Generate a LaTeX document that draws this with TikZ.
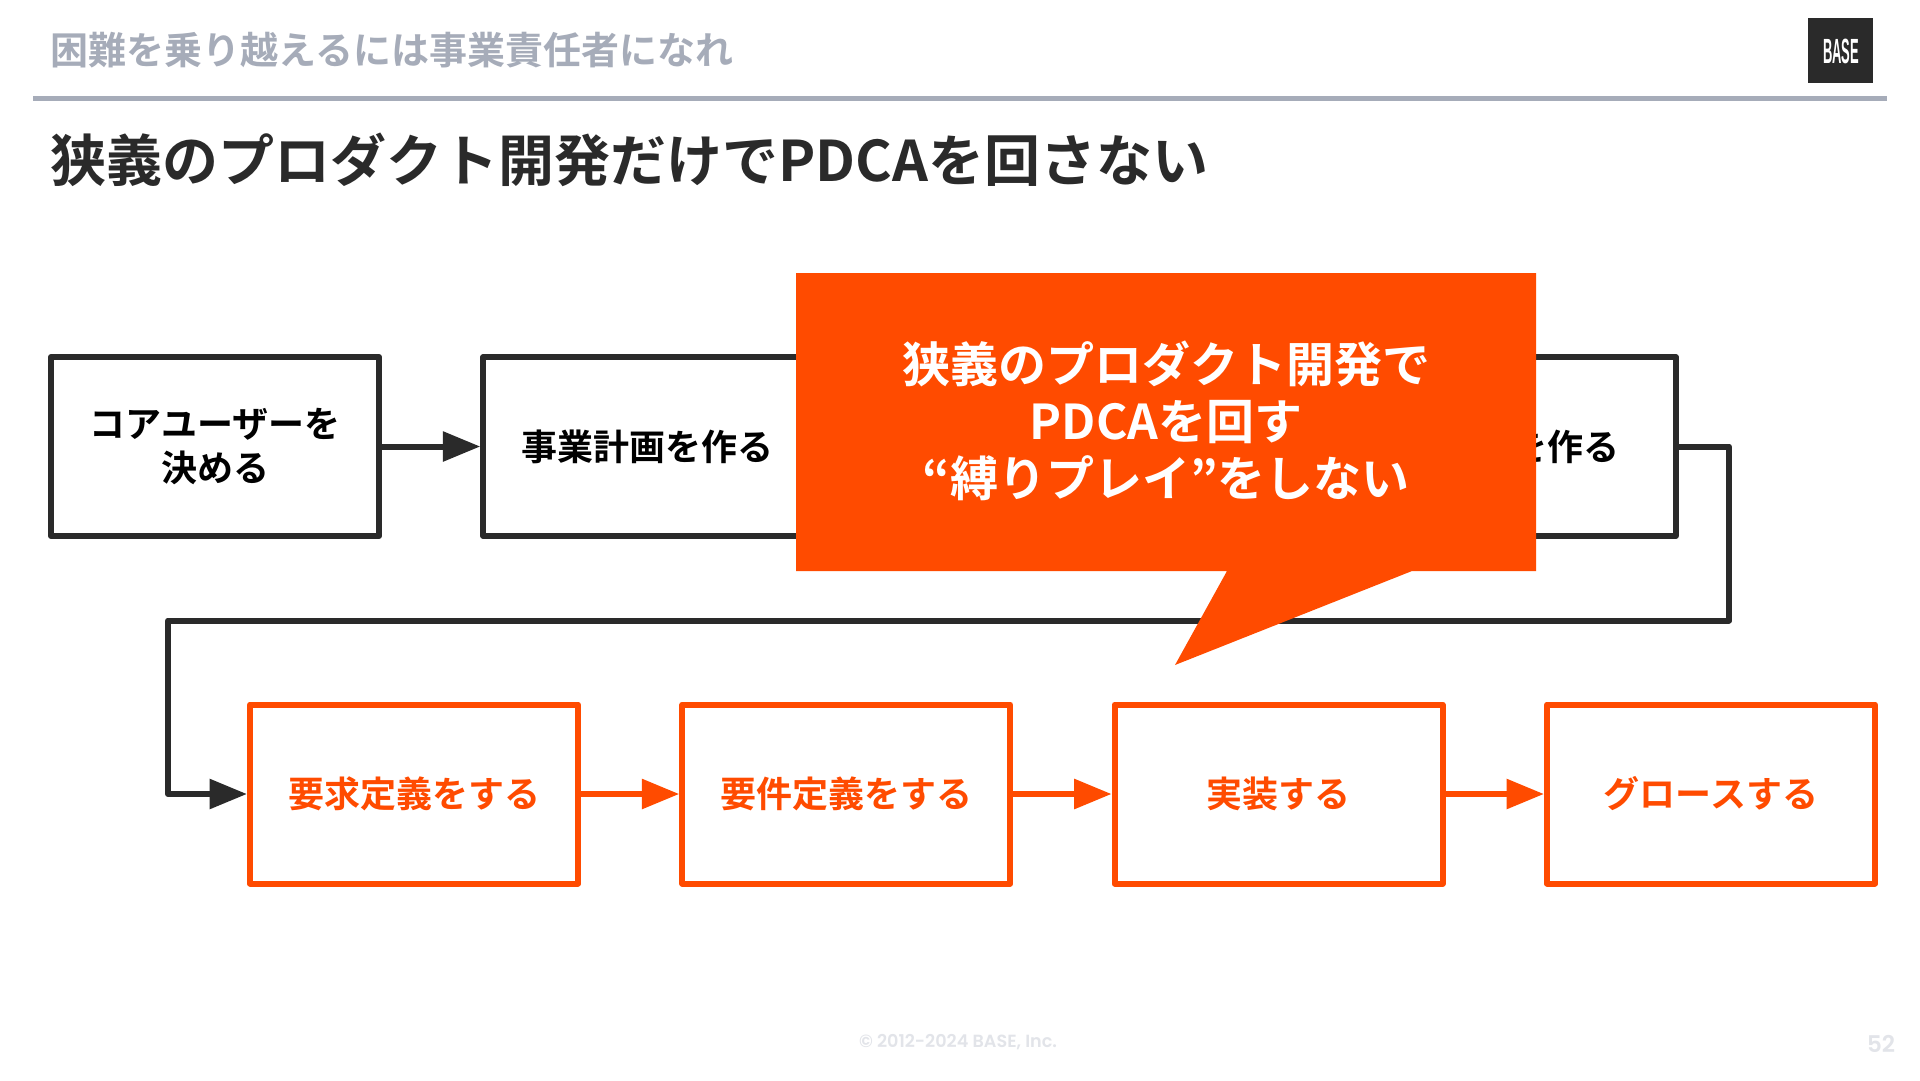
\documentclass[tikz,border=0pt]{standalone}
\usepackage{fontspec}
\setmainfont{Noto Sans CJK JP}[BoldFont=* Bold]
\newfontfamily\footfont{Poppins}[BoldFont=* SemiBold]
\newfontfamily\logofont{Liberation Sans}
\usetikzlibrary{arrows.meta}
\definecolor{brandorange}{HTML}{FF4B00}
\definecolor{inkdark}{HTML}{2A2A2A}
\definecolor{rulegrey}{HTML}{A6ACB9}
\definecolor{footgrey}{HTML}{E2E4E9}
\tikzset{
  x=1pt,y=-1pt,
  boxbase/.style={draw,line width=6pt,line join=round,fill=white,minimum width=328pt,minimum height=179pt,inner sep=0pt,align=center,font=\fontsize{36}{44}\selectfont\bfseries},
  darkbox/.style={boxbase,draw=inkdark,text=black},
  orangebox/.style={boxbase,draw=brandorange,text=brandorange},
  darklink/.style={draw=inkdark,line width=6pt,line join=round,-{Triangle[length=37.5pt,width=29pt,fill=inkdark]}},
  orangelink/.style={draw=brandorange,line width=6pt,line join=round,-{Triangle[length=37.5pt,width=29pt,fill=brandorange]}}
}
\begin{document}
\begin{tikzpicture}
\useasboundingbox (0,0) rectangle (1920,1080);
\fill[white] (0,0) rectangle (1920,1080);
% header
\node[anchor=west,inner sep=0pt,text=rulegrey,font=\fontsize{38}{38}\selectfont\bfseries] (head) at (50,50) {困難を乗り越えるには事業責任者になれ};
\fill[rulegrey] (33,95.5) rectangle (1887,100.5);
\fill[inkdark] (1808,18) rectangle (1873,83);
\node[inner sep=0pt,text=white,xscale=.37,font=\fontsize{35}{35}\logofont\bfseries] (logo) at (1841,51) {BASE};
\node[anchor=west,inner sep=0pt,text=inkdark,font=\fontsize{56}{56}\selectfont\bfseries] (title) at (50,160) {狭義のプロダクト開発だけでPDCAを回さない};
% top row
\node[darkbox] (a1) at (215,446.5) {コアユーザーを\\決める};
\node[darkbox] (a2) at (647.3,446.5) {事業計画を作る};
\node[darkbox] (a4) at (1511.6,446.5) {};
\node[anchor=east,inner sep=0pt,text=black,font=\fontsize{36}{44}\selectfont\bfseries] (a4t) at (1620,446.5) {を作る};
% bottom row
\node[orangebox] (b1) at (414,794) {要求定義をする};
\node[orangebox] (b2) at (846.3,794) {要件定義をする};
\node[orangebox] (b3) at (1278.6,794) {実装する};
\node[orangebox] (b4) at (1711,794) {グロースする};
% connectors
\draw[darklink] (a1) -- (a2);
\coordinate (c1) at (1729,446.5);
\coordinate (c2) at (1729,620.5);
\coordinate (c3) at (168,620.5);
\coordinate (c4) at (168,794);
\draw[darklink] (a4.east) -- (c1) -- (c2) -- (c3) -- (c4) -- (b1.west);
\draw[orangelink] (b1) -- (b2);
\draw[orangelink] (b2) -- (b3);
\draw[orangelink] (b3) -- (b4);
% callout
\fill[brandorange] (796,273) -- (1536,273) -- (1536,571) -- (1412,571) -- (1175,665) -- (1227,571) -- (796,571) -- cycle;
\node[inner sep=0pt,align=center,text=white,font=\fontsize{48}{57}\selectfont\bfseries] (call) at (1166,421) {狭義のプロダクト開発で\\PDCAを回す\\“縛りプレイ”をしない};
% footer
\node[inner sep=0pt,text=footgrey,font=\fontsize{17.6}{18}\footfont\bfseries] (foot) at (958,1042) {© 2012-2024 BASE, Inc.};
\node[inner sep=0pt,text=footgrey,font=\fontsize{23}{23}\footfont\bfseries] (page) at (1881,1044) {52};
\end{tikzpicture}
\end{document}
